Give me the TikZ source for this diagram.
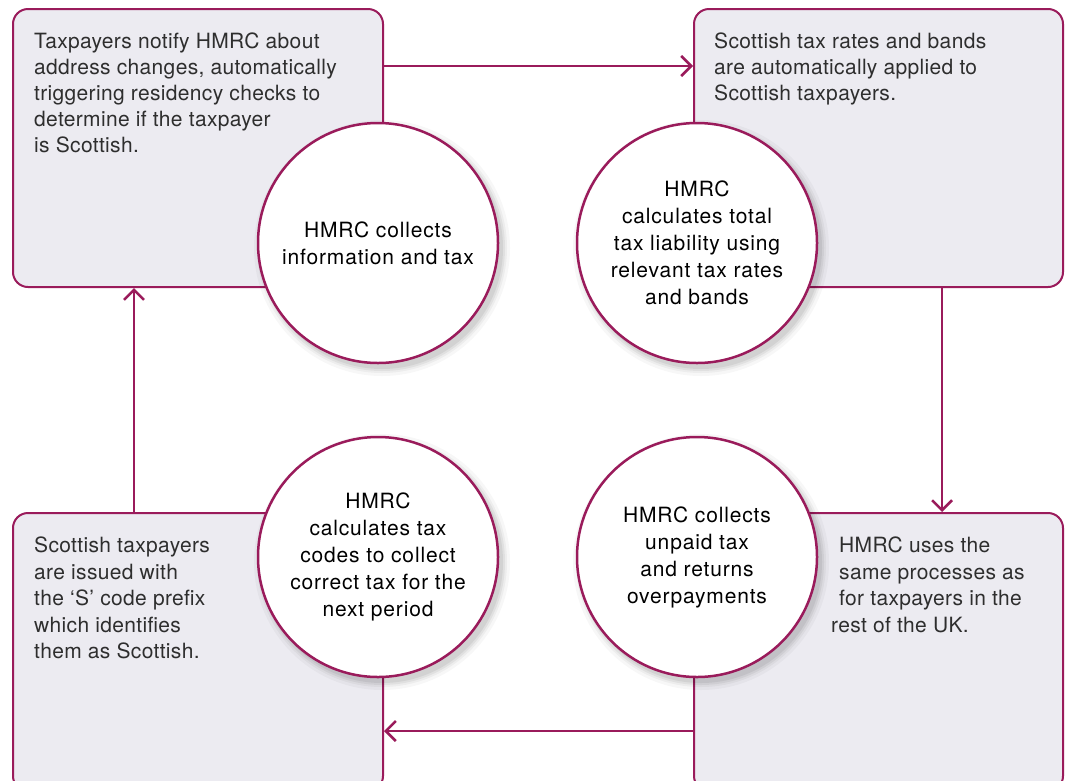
\documentclass[tikz,border=0pt]{standalone}
\usepackage{fontspec}
\setmainfont{TeX Gyre Heros}
\newfontfamily\paneltextfont[LetterSpace=1.6]{TeX Gyre Heros}
\newfontfamily\bubbletextfont[LetterSpace=4]{TeX Gyre Heros}
\usetikzlibrary{arrows.meta}
\definecolor{hmrc}{HTML}{9A1B5B}
\definecolor{boxfill}{HTML}{ECEBF1}
\definecolor{boxtext}{HTML}{2E2E2E}
\tikzset{
  panel/.style={draw=hmrc, line width=2pt, fill=boxfill, rounded corners=15pt, rectangle, inner sep=0pt},
  paneltext/.style={anchor=north west, align=left, text=boxtext, inner sep=0pt, font=\paneltextfont\fontsize{21}{26}\selectfont},
  paneltextb/.style={paneltext, font=\paneltextfont\fontsize{21}{26.5}\selectfont},
  bubble/.style={circle, draw=hmrc, line width=2.5pt, fill=white, minimum size=240pt, inner sep=0pt, align=center, font=\bubbletextfont\fontsize{21}{27}\selectfont},
  flow/.style={draw=hmrc, line width=2.5pt, -{Straight Barb[length=10pt,width=20pt,line width=2.5pt]}},
}
\begin{document}
\begin{tikzpicture}[x=1pt,y=-1pt]
\useasboundingbox (0,0) rectangle (1068,780);
\clip (0,0) rectangle (1068,780);
\fill[white] (0,0) rectangle (1068,780);
% panels
\node[panel, minimum width=370pt, minimum height=278pt] (tl) at (198,148) {};
\node[panel, minimum width=369pt, minimum height=278pt] (tr) at (878.5,148) {};
\node[panel, minimum width=370pt, minimum height=278pt] (bl) at (198,652) {};
\node[panel, minimum width=369pt, minimum height=278pt] (br) at (878.5,652) {};
% panel texts
\node[paneltext] (tlt) at (34,33) {Taxpayers notify HMRC about\\address changes, automatically\\triggering residency checks to\\determine if the taxpayer\\is Scottish.};
\node[paneltext] (trt) at (714,33) {Scottish tax rates and bands\\are automatically applied to\\Scottish taxpayers.};
\node[paneltextb] (blt) at (34,537) {Scottish taxpayers\\are issued with\\the ‘S’ code prefix\\which identifies\\them as Scottish.};
\node[paneltextb] (brt) at (831,537) {\hspace*{8pt}HMRC uses the\\\hspace*{8pt}same processes as\\\hspace*{8pt}for taxpayers in the\\rest of the UK.};
% connectors
\draw[flow] ([yshift=-58pt]tl.north east) -- ([yshift=-58pt]tr.north west);
\draw[flow] ([xshift=-122pt]tr.south east) -- ([xshift=-122pt]br.north east);
\draw[flow] ([yshift=-219pt]br.north west) -- ([yshift=-219pt]bl.north east);
\draw[flow] ([xshift=122pt]bl.north west) -- ([xshift=122pt]tl.south west);
% shadows
\foreach \cx/\cy in {378/243, 697/243, 378/557, 697/557}{
  \foreach \r/\o in {128/0.03, 125/0.04, 123/0.05, 121/0.06}{
    \fill[black, opacity=\o] (\cx+4,\cy+5) circle (\r);
  }
}
% bubbles
\node[bubble] (c1) at (378,243) {HMRC collects\\information and tax};
\node[bubble] (c2) at (697,243) {HMRC\\calculates total\\tax liability using\\relevant tax rates\\and bands};
\node[bubble] (c3) at (378,557) {HMRC\\calculates tax\\codes to collect\\correct tax for the\\next period};
\node[bubble] (c4) at (697,557) {HMRC collects\\unpaid tax\\and returns\\overpayments};
\end{tikzpicture}
\end{document}
